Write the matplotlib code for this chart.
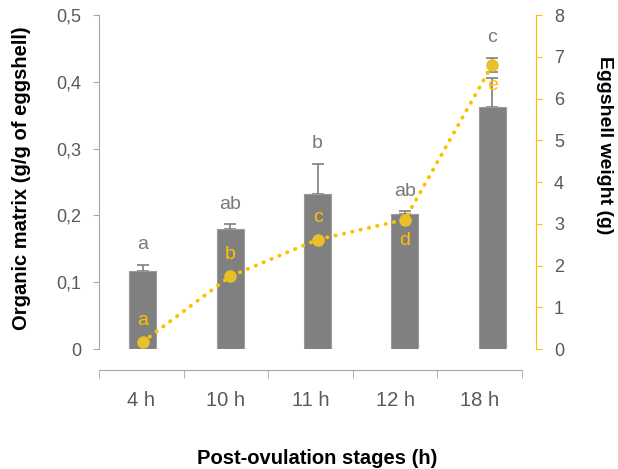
import numpy as np
import matplotlib.pyplot as plt

plt.rcParams['font.family'] = ['Liberation Sans', 'DejaVu Sans']

# ---- data ----
stages = ["4 h", "10 h", "11 h", "12 h", "18 h"]
organic_matrix = [0.117, 0.180, 0.232, 0.202, 0.363]
organic_err = [0.009, 0.007, 0.045, 0.004, 0.043]
organic_letters = ["a", "ab", "b", "ab", "c"]

shell_weight = [0.17, 1.74, 2.62, 3.10, 6.81]
shell_err = [0.05, 0.08, 0.08, 0.08, 0.17]
shell_letters = ["a", "b", "c", "d", "e"]
shell_letter_above = [True, True, True, False, False]

BAR_COLOR = "#808080"
GOLD = "#FFC000"
MARKER = "#E8C12A"
TICK_GRAY = "#595959"
Y2MAX = 8

fig = plt.figure(figsize=(6.18, 4.69), dpi=100)
ax = fig.add_axes([99 / 618, 1 - 349 / 469, (536 - 99) / 618, (349 - 15) / 469])
x = np.arange(len(stages))

ax.bar(x, organic_matrix, width=0.31, color=BAR_COLOR, edgecolor="#9a9a9a",
       linewidth=0.8, zorder=2)
ax.errorbar(x, organic_matrix, yerr=[np.zeros(len(x)), organic_err], fmt="none",
            ecolor="#7f7f7f", elinewidth=1.2, capsize=4, capthick=1.2, zorder=1)

# gray letters sit above the highest error cap (bar or line point)
for xi, v, e, w, we, lab in zip(x, organic_matrix, organic_err, shell_weight,
                                shell_err, organic_letters):
    top = max(v + e, (w + we) / Y2MAX * 0.5)
    ax.text(xi, top + 0.03, lab, ha="center", va="center", fontsize=14,
            color="#7a7a7a")

ax.set_xlim(-0.5, 4.5)
ax.set_ylim(0, 0.5)
ax.set_yticks([0, 0.1, 0.2, 0.3, 0.4, 0.5])
ax.set_yticklabels(["0", "0,1", "0,2", "0,3", "0,4", "0,5"])
ax.set_xticks([])
for s in ["top", "bottom", "right"]:
    ax.spines[s].set_visible(False)
ax.spines["left"].set_color("#a6a6a6")
ax.tick_params(axis="y", colors="#a6a6a6", labelcolor=TICK_GRAY, labelsize=13,
               length=4, pad=9)

# secondary axis: eggshell weight
ax2 = ax.twinx()
ax2.errorbar(x, shell_weight, yerr=shell_err, fmt="none", ecolor="#7f7f7f",
             elinewidth=1.2, capsize=4, capthick=1.2, zorder=3)
ax2.plot(x, shell_weight, color=GOLD, linestyle=(0, (0.1, 2.1)), linewidth=2.8,
         dash_capstyle="round", zorder=4)
ax2.plot(x, shell_weight, linestyle="none", marker="o", markersize=8,
         color=MARKER, zorder=5)
for xi, v, lab, above in zip(x, shell_weight, shell_letters, shell_letter_above):
    off = 0.52 if above else -0.5
    ax2.text(xi, v + off, lab, ha="center", va="center", fontsize=14, color=GOLD)
ax2.set_ylim(0, Y2MAX)
ax2.set_yticks(range(0, Y2MAX + 1))
for s in ["top", "bottom", "left"]:
    ax2.spines[s].set_visible(False)
ax2.spines["right"].set_color(GOLD)
ax2.tick_params(axis="y", colors=GOLD, labelcolor=TICK_GRAY, labelsize=13,
                length=4, pad=9)

# separate category axis below the plot
axb = fig.add_axes([99 / 618, 1 - 370 / 469, (522 - 99) / 618, 0.001])
axb.set_xlim(-0.5, 4.5)
axb.set_yticks([])
for s in ["top", "left", "right"]:
    axb.spines[s].set_visible(False)
axb.spines["bottom"].set_color("#a6a6a6")
axb.set_xticks(np.arange(-0.5, 5, 1.0), minor=True)
axb.set_xticks(x)
axb.set_xticklabels(stages)
axb.tick_params(axis="x", which="major", length=0, labelsize=14.5,
                labelcolor=TICK_GRAY, pad=15)
axb.tick_params(axis="x", which="minor", length=6, color="#a6a6a6")
axb.patch.set_visible(False)

fig.text(22 / 618, 1 - 178 / 469, "Organic matrix (g/g of eggshell)",
         rotation=90, ha="center", va="center", fontsize=14.5, fontweight="bold")
fig.text(605 / 618, 1 - 145 / 469, "Eggshell weight (g)", rotation=270,
         ha="center", va="center", fontsize=14, fontweight="bold")
fig.text(317 / 618, 1 - 458 / 469, "Post-ovulation stages (h)", ha="center",
         va="center", fontsize=14.5, fontweight="bold")

fig.savefig("out.png", dpi=100)
